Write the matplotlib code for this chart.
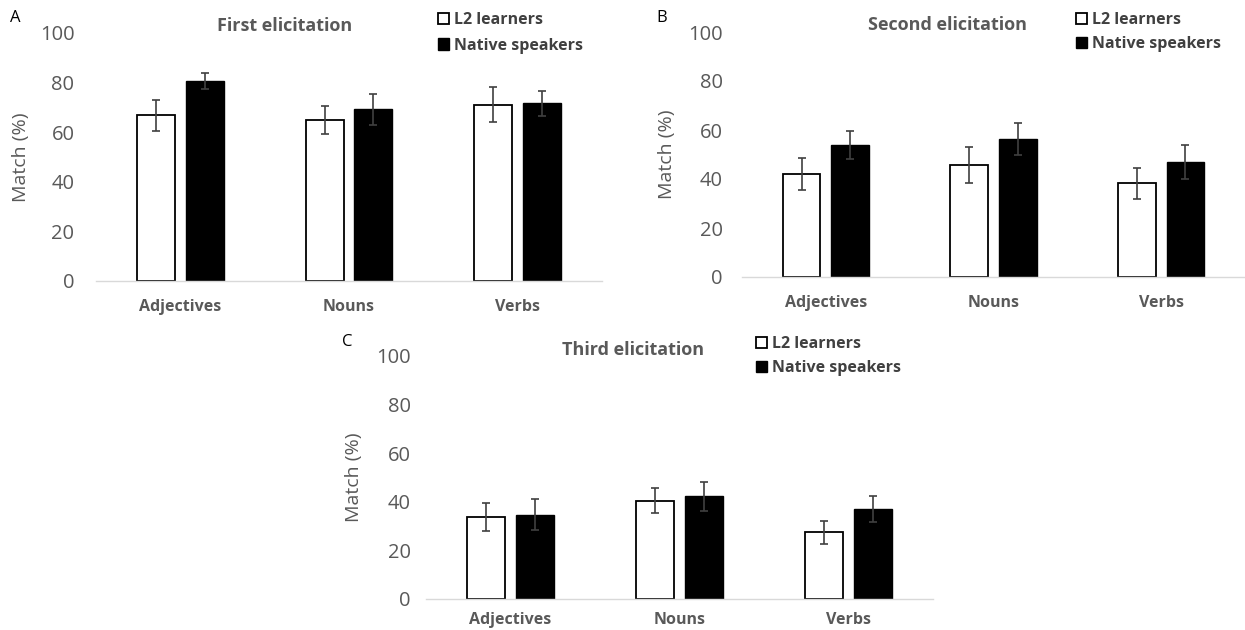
import matplotlib
matplotlib.use("Agg")
import matplotlib.pyplot as plt
import numpy as np

plt.rcParams['font.family'] = ['Open Sans', 'DejaVu Sans']

categories = ['Adjectives', 'Nouns', 'Verbs']
groups = ['L2 learners', 'Native speakers']

# First elicitation
first_l2 = [66.8, 64.8, 71.1]
first_l2_err = [6.3, 5.7, 7.0]
first_native = [80.6, 69.2, 71.6]
first_native_err = [3.3, 6.4, 5.2]

# Second elicitation
second_l2 = [42.1, 45.6, 38.2]
second_l2_err = [6.5, 7.4, 6.2]
second_native = [53.8, 56.3, 46.9]
second_native_err = [5.6, 6.4, 7.1]

# Third elicitation
third_l2 = [33.9, 40.4, 27.5]
third_l2_err = [5.8, 5.2, 4.7]
third_native = [34.6, 42.3, 36.9]
third_native_err = [6.4, 6.0, 5.3]

W, H = 1245, 630
fig = plt.figure(figsize=(W / 100, H / 100), dpi=100)

GRAY = '#595959'


def px_rect(x0, x1, ytop, ybot):
    return [x0 / W, 1 - ybot / H, (x1 - x0) / W, (ybot - ytop) / H]


def panel(rect, title, title_xy, letter, letter_xy, l2, l2_err, nat, nat_err,
          legend_xy, leg_space, tick_pad, xpad, ylab_x):
    ax = fig.add_axes(rect)
    x = np.arange(len(categories))
    width = 0.225
    off = 0.145
    err_kw = dict(ecolor='#404040', elinewidth=1.2, capsize=3.2, capthick=1.2)
    b1 = ax.bar(x - off, l2, width, yerr=l2_err, color='white', edgecolor='black',
                linewidth=1.3, error_kw=err_kw, label=groups[0])
    b2 = ax.bar(x + off, nat, width, yerr=nat_err, color='black', edgecolor='black',
                linewidth=1.0, error_kw=err_kw, label=groups[1])
    ax.set_xlim(-0.5, 2.5)
    ax.set_ylim(0, 100)
    ax.set_yticks(range(0, 101, 20))
    ax.set_xticks(x)
    ax.set_xticklabels(categories, fontsize=11.5, fontweight='bold', color=GRAY)
    ax.tick_params(axis='y', length=0, pad=tick_pad, labelsize=14.5, labelcolor=GRAY)
    ax.tick_params(axis='x', length=0, pad=xpad)
    for s in ['top', 'right', 'left']:
        ax.spines[s].set_visible(False)
    ax.spines['bottom'].set_color('#d9d9d9')
    ax.spines['bottom'].set_linewidth(1.0)
    ax.set_ylabel('Match (%)', fontsize=14, color=GRAY)
    ax.yaxis.set_label_coords(ylab_x, 0.5)
    fig.text(title_xy[0] / W, 1 - title_xy[1] / H, title, fontsize=13,
             fontweight='bold', color=GRAY, ha='center', va='center')
    fig.text(letter_xy[0] / W, 1 - letter_xy[1] / H, letter, fontsize=12,
             ha='left', va='center', color='black')
    ax.legend(handles=[b1, b2], loc='upper left', frameon=False,
              bbox_to_anchor=(legend_xy[0] / W, 1 - legend_xy[1] / H),
              bbox_transform=fig.transFigure, borderpad=0, borderaxespad=0,
              handlelength=0.7, handleheight=0.7, handletextpad=0.3,
              labelspacing=leg_space, prop=dict(size=11.5, weight='bold'),
              labelcolor='#404040')
    return ax


panel(px_rect(96, 602, 33, 281), 'First elicitation', (285, 26), 'A', (10, 18),
      first_l2, first_l2_err, first_native, first_native_err, (438, 12), 0.6,
      15.5, 13, -0.13)
panel(px_rect(742, 1245, 32, 277), 'Second elicitation', (948, 25), 'B', (656, 18),
      second_l2, second_l2_err, second_native, second_native_err, (1076, 12), 0.5,
      14, 13, -0.131)
panel(px_rect(426, 933, 356, 599), 'Third elicitation', (633, 350), 'C', (342, 342),
      third_l2, third_l2_err, third_native, third_native_err, (756, 336), 0.5,
      11, 9, -0.125)

fig.savefig('out.png', dpi=100)
